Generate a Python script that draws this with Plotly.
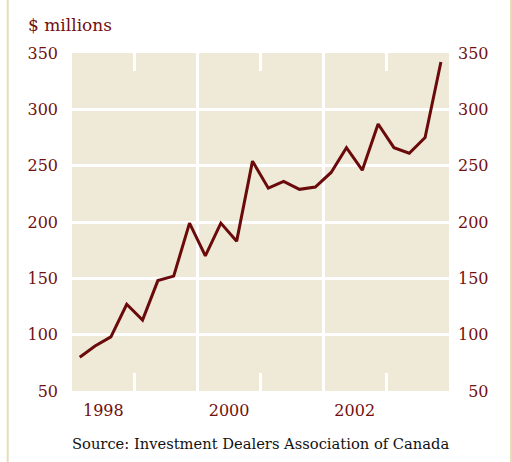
import plotly.graph_objects as go

# Quarterly data (mid-quarter dates), $ millions
dates = [
    "1998-02-15", "1998-05-15", "1998-08-15", "1998-11-15",
    "1999-02-15", "1999-05-15", "1999-08-15", "1999-11-15",
    "2000-02-15", "2000-05-15", "2000-08-15", "2000-11-15",
    "2001-02-15", "2001-05-15", "2001-08-15", "2001-11-15",
    "2002-02-15", "2002-05-15", "2002-08-15", "2002-11-15",
    "2003-02-15", "2003-05-15", "2003-08-15", "2003-11-15",
]
values = [
    80, 90, 98, 127,
    113, 148, 152, 199,
    170, 199, 183, 254,
    230, 236, 229, 231,
    244, 266, 246, 287,
    266, 261, 275, 342,
]

y_ticks = [50, 100, 150, 200, 250, 300, 350]
y_grid = [100, 150, 200, 250, 300]
x_label_pos = ["1998-07-02", "2000-07-02", "2002-07-02"]
x_labels = ["1998", "2000", "2002"]
x_grid = ["2000-01-01", "2002-01-01"]
x_short_ticks = ["1999-01-01", "2001-01-01", "2003-01-01"]
x_range = ["1998-01-01", "2004-01-01"]

RED = "#721010"
LINE = "#6a0a0a"
BG = "#efe9d7"
FONT = "DejaVu Serif"

fig = go.Figure()
fig.add_trace(go.Scatter(x=dates, y=values, mode="lines",
                         line=dict(color=LINE, width=3), hoverinfo="skip",
                         showlegend=False))
# invisible helper trace for the overlay axes
fig.add_trace(go.Scatter(x=[dates[0]], y=[values[0]], xaxis="x2", yaxis="y2",
                         mode="markers", marker=dict(opacity=0),
                         showlegend=False, hoverinfo="skip"))

fig.update_layout(
    width=512, height=462,
    margin=dict(l=72, r=63, t=53, b=71),
    paper_bgcolor="white",
    plot_bgcolor=BG,
    font=dict(family=FONT, size=16, color=RED),
    xaxis=dict(
        type="date", range=x_range, tickmode="array",
        tickvals=x_label_pos, ticktext=x_labels,
        showgrid=False, zeroline=False, showline=False, ticks="",
        ticklabelstandoff=8,
        minor=dict(tickmode="array", tickvals=x_short_ticks, ticks="inside",
                   ticklen=18, tickwidth=3, tickcolor="white", showgrid=False),
    ),
    xaxis2=dict(
        type="date", range=x_range, overlaying="x", side="top", matches="x",
        tickmode="array", tickvals=x_grid, showticklabels=False, ticks="",
        showgrid=True, gridcolor="white", gridwidth=3, zeroline=False,
        minor=dict(tickmode="array", tickvals=x_short_ticks, ticks="inside",
                   ticklen=18, tickwidth=3, tickcolor="white", showgrid=False),
    ),
    yaxis=dict(
        range=[50, 350], tickmode="array", tickvals=y_ticks,
        ticktext=[str(v) for v in y_ticks],
        showgrid=False, zeroline=False, ticks="", ticklabelstandoff=13,
        minor=dict(tickmode="array", tickvals=y_grid, showgrid=True,
                   gridcolor="white", gridwidth=3, ticks=""),
    ),
    yaxis2=dict(
        range=[50, 350], overlaying="y", side="right", matches="y",
        tickmode="array", tickvals=y_ticks,
        ticktext=[("\u2007" + str(v)) if v < 100 else str(v) for v in y_ticks],
        showgrid=False, zeroline=False, ticks="", ticklabelstandoff=8,
    ),
    annotations=[
        dict(text="$ millions", xref="paper", yref="paper",
             x=-46 / 377, y=1 + (53 - 25) / 338, xanchor="left", yanchor="middle",
             showarrow=False, font=dict(family=FONT, size=17, color=RED)),
        dict(text="Source: Investment Dealers Association of Canada",
             xref="paper", yref="paper", x=-2 / 377, y=-(443.5 - 391) / 338,
             xanchor="left", yanchor="middle", showarrow=False,
             font=dict(family=FONT, size=14.7, color="#111111")),
    ],
    shapes=[
        dict(type="line", xref="paper", yref="paper", x0=(7.7 - 72) / 377,
             x1=(7.7 - 72) / 377, y0=-71 / 338, y1=1 + 53 / 338,
             line=dict(color="#e6dcb6", width=2)),
        dict(type="line", xref="paper", yref="paper", x0=(511 - 72) / 377,
             x1=(511 - 72) / 377, y0=-71 / 338, y1=1 + 53 / 338,
             line=dict(color="#e6dcb6", width=2)),
    ],
)

fig.write_html("out.html", config={"displayModeBar": False},
               post_script="document.body.style.margin='0';")
